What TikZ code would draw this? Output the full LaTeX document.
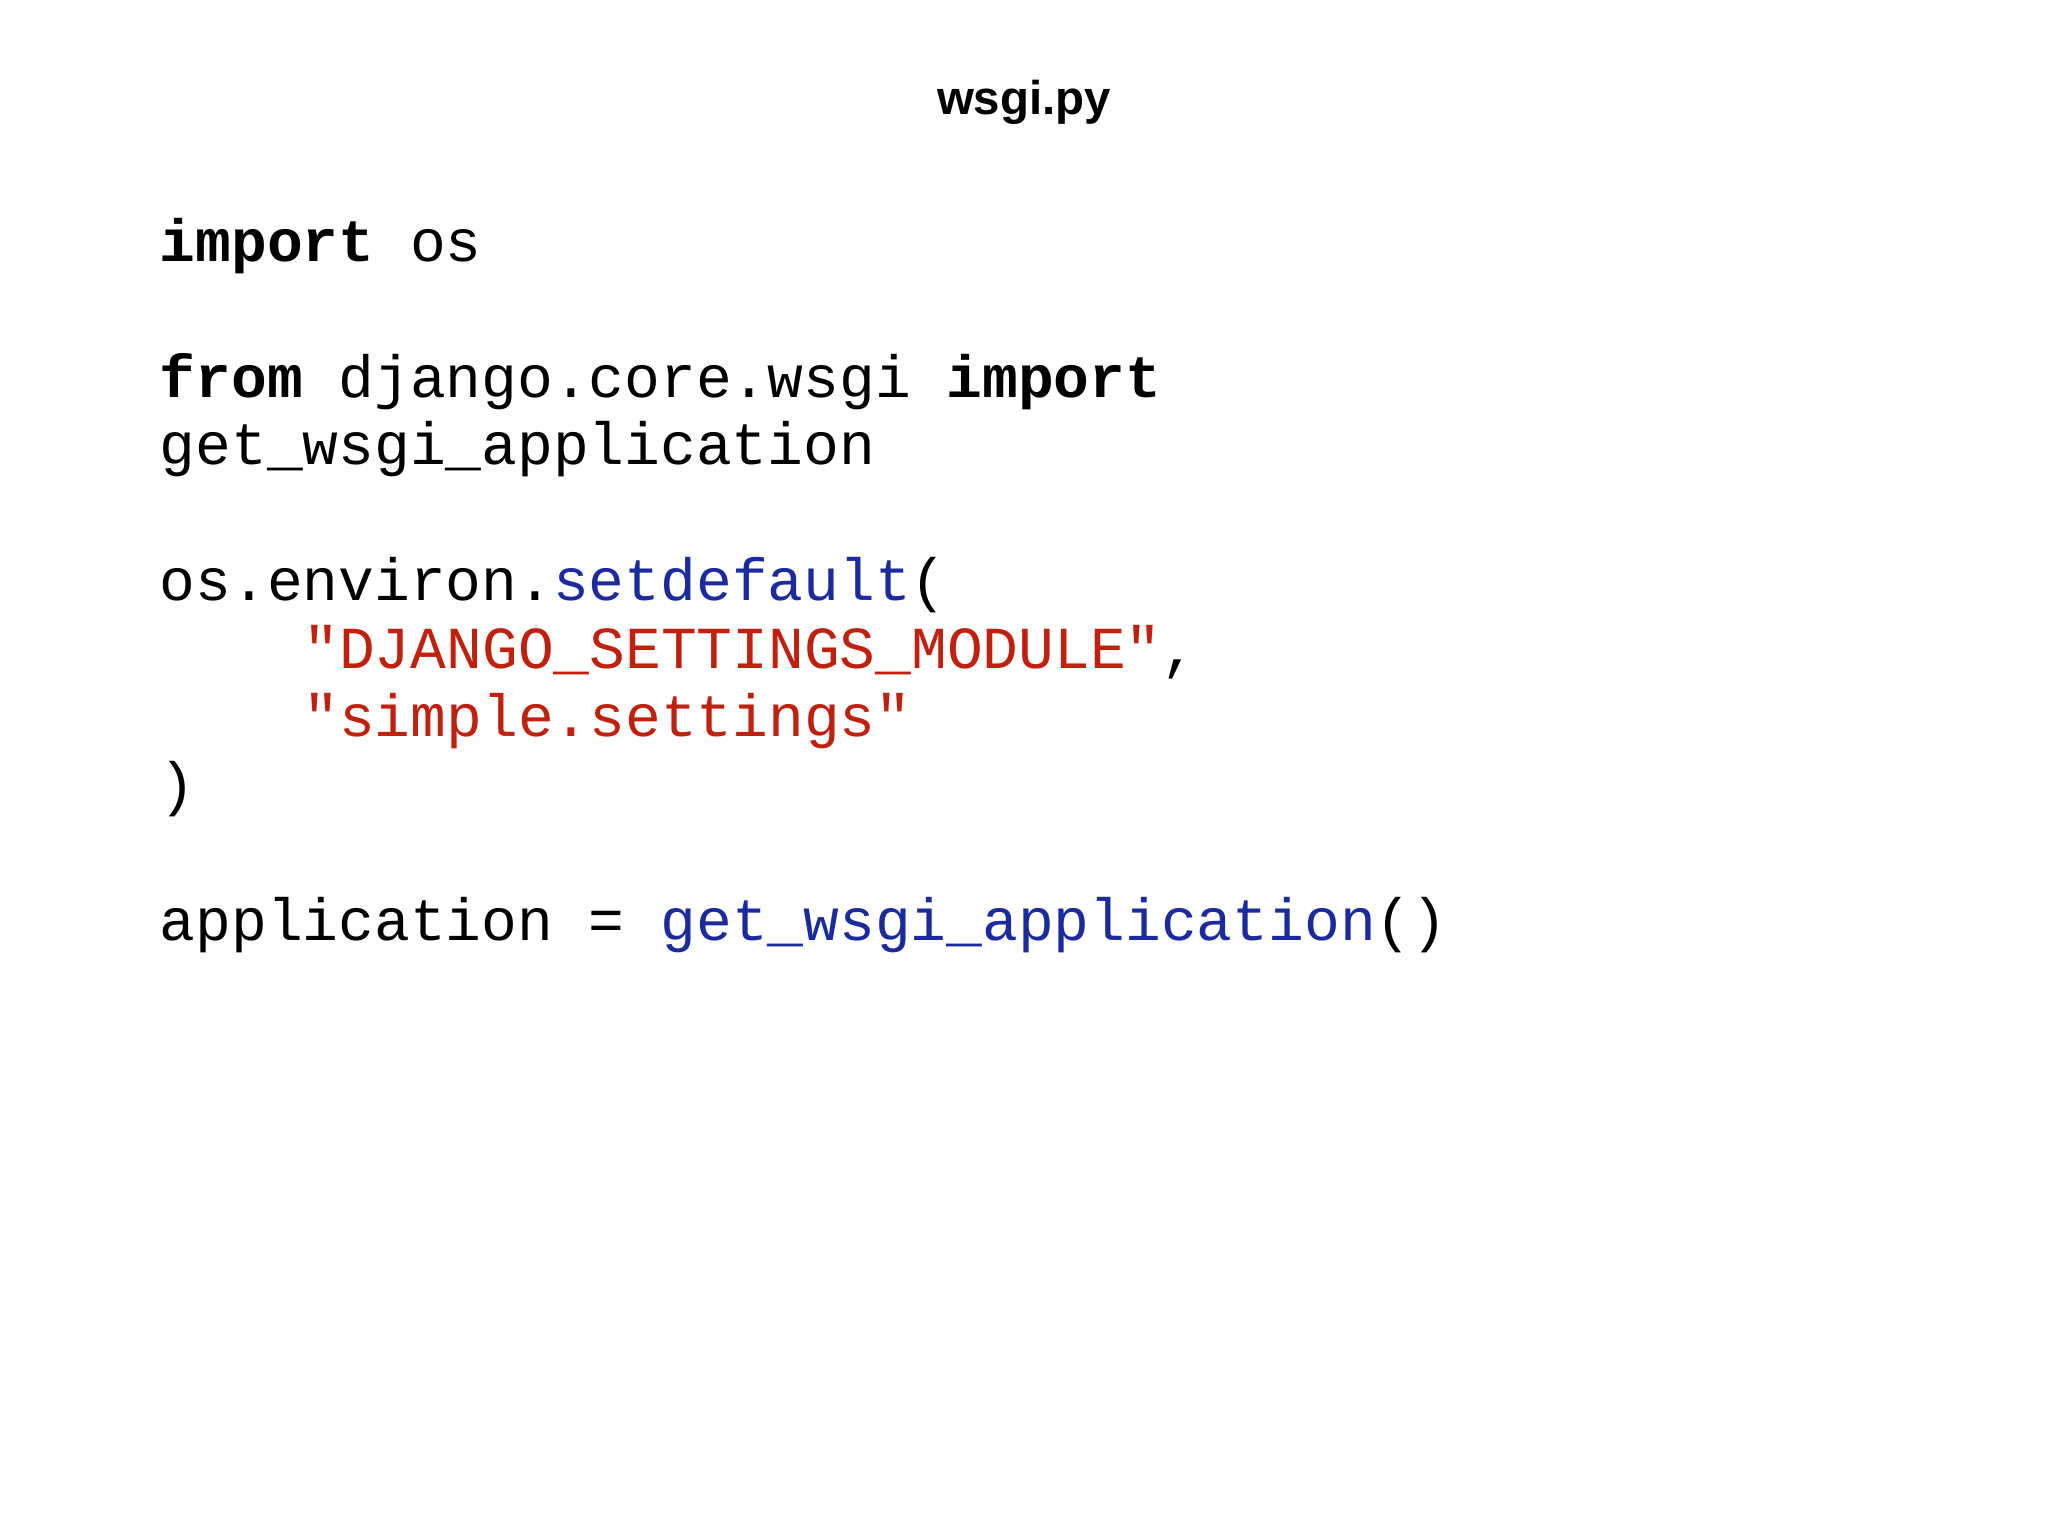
\documentclass[tikz,border=0pt]{standalone}
\usepackage{fontspec}
\setmainfont{Liberation Sans}
\setmonofont{Liberation Mono}
\definecolor{kwblue}{HTML}{1B2A9C}
\definecolor{strred}{HTML}{C0210F}
\begin{document}
\begin{tikzpicture}[x=0.653pt,y=-0.653pt,
  code/.style={anchor=base west,inner sep=0pt,font=\ttfamily\fontsize{29.8}{34}\selectfont},
  ttl/.style={anchor=base,inner sep=0pt,font=\bfseries\fontsize{23.7}{28}\selectfont}]
\useasboundingbox (0,0) rectangle (1568,1176);
\fill[white] (0,0) rectangle (1568,1176);
\node[ttl] (title) at (784,88) {wsgi.py};
\node[code] (l1) at (122,200) {\textbf{import} os};
\node[code] (l2) at (122,304) {\textbf{from} django.core.wsgi \textbf{import}};
\node[code] (l3) at (122,356) {get\_wsgi\_application};
\node[code] (l4) at (122,460) {os.environ.\textcolor{kwblue}{setdefault}(};
\node[code] (l5) at (232,512) {\textcolor{strred}{"DJANGO\_SETTINGS\_MODULE"},};
\node[code] (l6) at (232,564) {\textcolor{strred}{"simple.settings"}};
\node[code] (l7) at (122,616) {)};
\node[code] (l8) at (122,720) {application = \textcolor{kwblue}{get\_wsgi\_application}()};
\end{tikzpicture}
\end{document}
